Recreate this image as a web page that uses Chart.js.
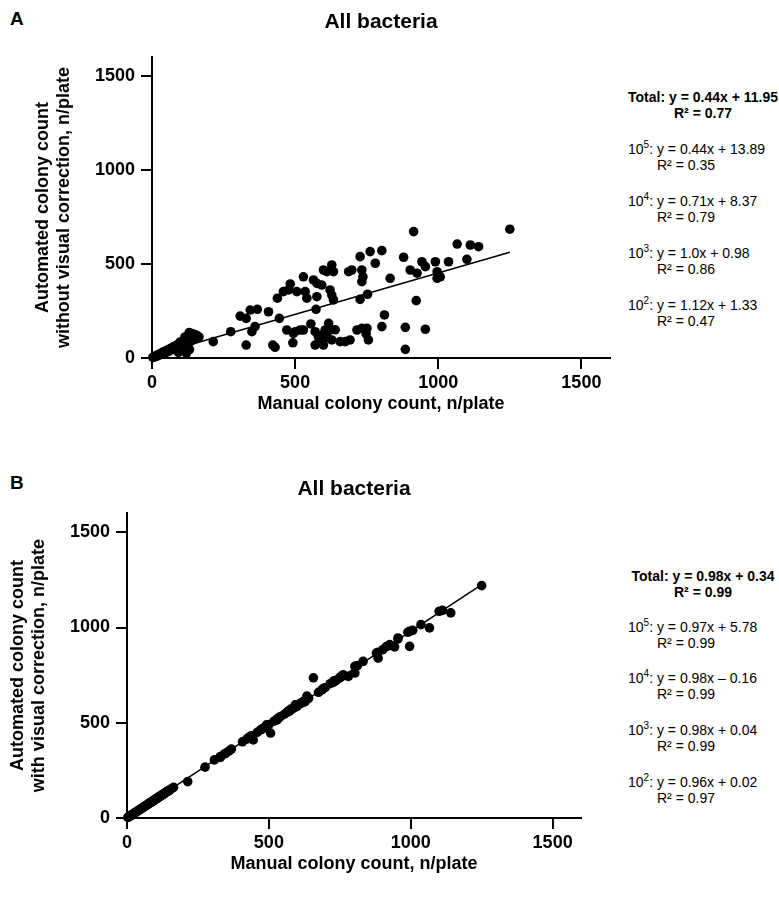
<!DOCTYPE html>
<html>
<head>
<meta charset="utf-8">
<script src="https://cdn.jsdelivr.net/npm/chart.js@4.4.1/dist/chart.umd.min.js"></script>
<style>
  body { margin: 0; background: #fff; font-family: Arial, "Liberation Sans", sans-serif; color: #000; }
  #wrap { position: relative; width: 779px; height: 899px; overflow: hidden; }
  canvas { position: absolute; left: 0; }
  .letra { position: absolute; left: 10px; font-size: 19px; font-weight: bold; }
  .eq { position: absolute; left: 628px; font-size: 14px; line-height: 16px; white-space: nowrap; }
  .eq.total { font-weight: bold; text-align: center; width: 150px; }
  .eq .r2 { padding-left: 29px; }
  .eq.total .r2 { padding-left: 0; }
  .eq sup { font-size: 10px; line-height: 0; }
</style>
</head>
<body>
<div id="wrap">
  <div class="letra" style="top:8px">A</div>
  <div class="letra" style="top:472px">B</div>
  <canvas id="chart-a" width="625" height="440" style="top:0"></canvas>
  <canvas id="chart-b" width="625" height="449" style="top:450px"></canvas>
  <div id="eqs"></div>
</div>
<script>
// ─── Dados ───────────────────────────────────────────────────────────────────
const AXIS_TICKS = [0, 500, 1000, 1500];
const AXIS_MAX   = 1600;

// contagem manual (eixo x, mesma para os dois painéis)
const manualCount = [
  3, 5, 7, 9, 11, 13, 15, 17, 19, 21, 24, 26, 29, 31, 34, 37, 40, 43, 46, 49,
  52, 55, 58, 61, 64, 67, 70, 73, 76, 79, 82, 85, 88, 91, 94, 97, 100, 103, 106, 109,
  112, 115, 118, 121, 124, 127, 130, 133, 137, 141, 146, 151, 158, 164, 92, 108, 120, 131, 98, 126,
  115, 130, 140, 150,
  214, 275, 308, 329, 343, 368, 360, 349, 329, 407, 422, 430, 438, 445, 459, 477, 483, 471, 492, 500,
  506, 529, 541, 535, 564, 576, 593, 576, 573, 599, 611, 628, 634, 622, 628, 634, 687, 698, 727, 762,
  803, 780, 733, 737, 733, 727, 753, 832, 879, 914, 902, 926, 943, 955, 990, 996, 996, 1036, 1066, 923,
  494, 518, 529, 555, 570, 581, 593, 605, 617, 622, 640, 599, 570, 599, 588, 611, 628, 657, 675, 692,
  716, 733, 751, 748, 756, 803, 812, 885, 885, 955, 1100, 1112, 1141, 1250, 1007
];

// painel A: automático sem correção visual
const autoRawCount = [
  4, 3, 6, 8, 7, 11, 9, 14, 12, 17, 15, 21, 18, 25, 22, 30, 26, 34, 28, 38,
  33, 43, 36, 48, 40, 52, 45, 58, 48, 62, 52, 66, 55, 72, 60, 78, 63, 82, 68, 86,
  72, 90, 76, 96, 80, 100, 85, 104, 92, 110, 98, 114, 118, 112, 30, 40, 25, 45, 85, 60,
  112, 135, 130, 125,
  87, 140, 223, 211, 255, 259, 167, 140, 69, 246, 69, 57, 318, 211, 353, 362, 394, 149, 81, 140,
  353, 432, 318, 353, 415, 397, 388, 326, 259, 468, 459, 495, 459, 362, 335, 309, 459, 468, 539, 566,
  571, 504, 468, 432, 406, 312, 339, 424, 536, 672, 468, 451, 512, 486, 512, 459, 424, 512, 606, 305,
  131, 149, 149, 181, 140, 113, 122, 149, 184, 149, 150, 96, 69, 69, 87, 113, 96, 87, 87, 96,
  149, 158, 158, 128, 96, 167, 229, 163, 46, 153, 525, 601, 592, 685, 432
];

// painel B: automático com correção visual
const autoCorrectedCount = [
  3, 5, 7, 9, 10, 13, 14, 17, 18, 21, 23, 26, 28, 31, 33, 36, 39, 42, 45, 48,
  51, 54, 56, 60, 62, 66, 68, 72, 74, 78, 80, 83, 86, 89, 92, 95, 98, 101, 104, 107,
  110, 113, 115, 119, 121, 125, 127, 131, 134, 139, 143, 148, 155, 161, 90, 105, 117, 128, 96, 123,
  112, 127, 137, 147,
  191, 267, 305, 322, 336, 362, 352, 341, 318, 400, 414, 424, 431, 410, 450, 468, 474, 463, 489, 490,
  446, 520, 532, 526, 556, 566, 594, 570, 563, 588, 600, 618, 625, 612, 611, 640, 673, 684, 717, 752,
  761, 743, 721, 722, 718, 712, 740, 822, 866, 900, 884, 910, 898, 945, 975, 901, 980, 1015, 998, 905,
  486, 508, 515, 545, 558, 572, 585, 596, 606, 608, 628, 590, 561, 586, 578, 602, 616, 736, 660, 680,
  705, 720, 738, 734, 742, 796, 800, 839, 870, 940, 1085, 1090, 1077, 1220, 985
];

// retas de regressão (Total)
const fitSlope     = [0.44, 0.98];
const fitIntercept = [11.95, 0.34];
const FIT_X_MAX    = 1250;

// textos das equações
const eqTotal  = ['Total: y = 0.44x + 11.95', 'Total: y = 0.98x + 0.34'];
const r2Total  = ['0.77', '0.99'];
const eqDil    = ['5', '4', '3', '2'];
const eqDilA   = ['y = 0.44x + 13.89', 'y = 0.71x + 8.37', 'y = 1.0x + 0.98', 'y = 1.12x + 1.33'];
const r2DilA   = ['0.35', '0.79', '0.86', '0.47'];
const eqDilB   = ['y = 0.97x + 5.78', 'y = 0.98x \u2013 0.16', 'y = 0.98x + 0.04', 'y = 0.96x + 0.02'];
const r2DilB   = ['0.99', '0.99', '0.99', '0.97'];

// ─── Helpers ─────────────────────────────────────────────────────────────────
const FONTE = 'Arial, "Liberation Sans", sans-serif';

function pontos(ys) {
  return manualCount.map((x, i) => ({ x, y: ys[i] }));
}

function eixo(titulo, larguraOuAltura, horizontal) {
  return {
    type: 'linear',
    min: 0,
    max: AXIS_MAX,
    afterBuildTicks: s => { s.ticks = AXIS_TICKS.map(v => ({ value: v })); },
    afterFit: s => { if (horizontal) s.height = larguraOuAltura; else s.width = larguraOuAltura; },
    border: { display: true, color: '#000', width: 2 },
    grid: { drawOnChartArea: false, drawTicks: true, tickLength: 11, color: '#000', lineWidth: 2 },
    ticks: {
      color: '#000', padding: horizontal ? 3 : 6, maxRotation: 0, autoSkip: false,
      callback: v => String(v),
      font: { family: FONTE, size: 18, weight: 'bold' },
    },
    title: {
      display: true, text: titulo, color: '#000', padding: 0,
      font: { family: FONTE, size: 18, weight: 'bold', lineHeight: 1.2 },
    },
  };
}

function criarGrafico(id, ys, painel, layout) {
  const m = fitSlope[painel], b = fitIntercept[painel];
  return new Chart(document.getElementById(id), {
    data: {
      datasets: [
        {
          type: 'line',
          data: [{ x: 0, y: b }, { x: FIT_X_MAX, y: m * FIT_X_MAX + b }],
          borderColor: '#000', borderWidth: 1.6, pointRadius: 0, clip: false,
        },
        {
          type: 'scatter',
          data: pontos(ys),
          backgroundColor: '#000', borderWidth: 0, pointRadius: 4.8, clip: false,
        },
      ],
    },
    options: {
      responsive: false,
      animation: false,
      layout: { padding: layout.padding },
      plugins: {
        legend: { display: false },
        tooltip: { enabled: false },
        title: {
          display: true, text: 'All bacteria', fullSize: false, color: '#000',
          font: { family: FONTE, size: 21, weight: 'bold', lineHeight: 1.2 },
          padding: layout.titlePad,
        },
      },
      scales: {
        x: eixo('Manual colony count, n/plate', 57, true),
        y: eixo(layout.yTitle, layout.yWidth, false),
      },
    },
  });
}

// ─── Equações à direita ──────────────────────────────────────────────────────
function renderEquacoes(painel, topos, eqs, r2s) {
  let html = `<div class="eq total" style="top:${topos[0]}px">${eqTotal[painel]}<div class="r2">R\u00b2 = ${r2Total[painel]}</div></div>`;
  eqs.forEach((eq, i) => {
    html += `<div class="eq" style="top:${topos[i + 1]}px">10<sup>${eqDil[i]}</sup>: ${eq}<div class="r2">R\u00b2 = ${r2s[i]}</div></div>`;
  });
  return html;
}

document.getElementById('eqs').innerHTML =
  renderEquacoes(0, [89, 141, 193, 245, 297], eqDilA, r2DilA) +
  renderEquacoes(1, [568, 619, 670, 722, 774], eqDilB, r2DilB);

// ─── Gráficos ────────────────────────────────────────────────────────────────
criarGrafico('chart-a', autoRawCount, 0, {
  padding: { left: 32, right: 15, top: 0, bottom: 25 },
  titlePad: { top: 10, bottom: 22 },
  yTitle: ['Automated colony count', 'without visual correction, n/plate'],
  yWidth: 120,
});

criarGrafico('chart-b', autoCorrectedCount, 1, {
  padding: { left: 7, right: 44, top: 0, bottom: 24 },
  titlePad: { top: 27, bottom: 11 },
  yTitle: ['Automated colony count', 'with visual correction, n/plate'],
  yWidth: 120,
});
</script>
</body>
</html>
